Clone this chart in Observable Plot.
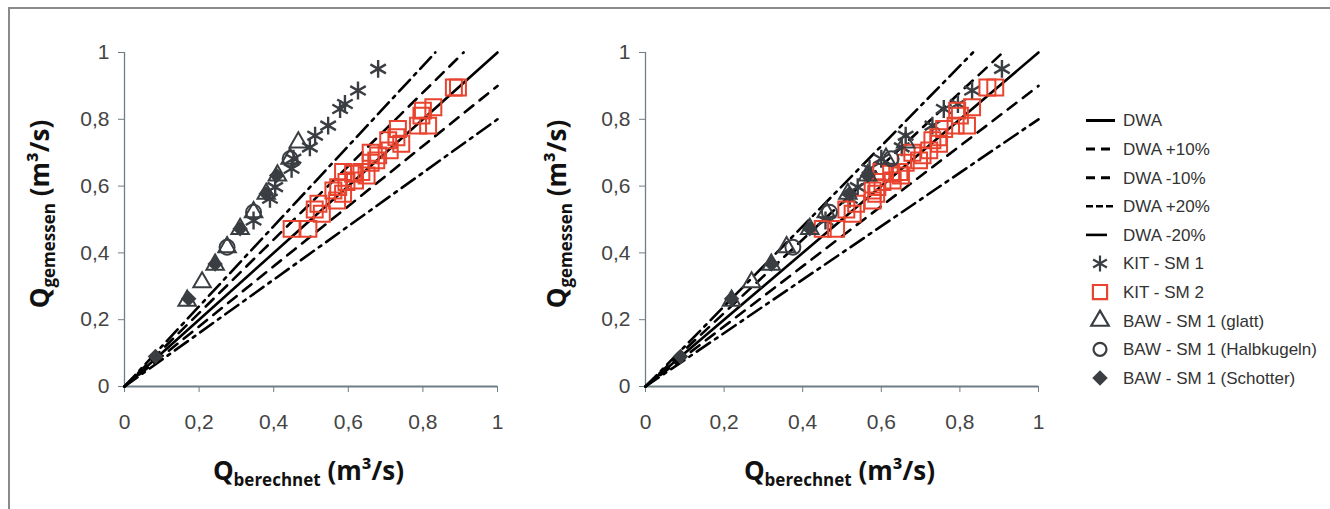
<!DOCTYPE html>
<html><head><meta charset="utf-8">
<script src="https://cdn.jsdelivr.net/npm/d3@7"></script>
<script src="https://cdn.jsdelivr.net/npm/@observablehq/plot@0.6"></script>
<style>
body{margin:0;background:#fff;}
#wrap{position:relative;width:1330px;height:509px;overflow:hidden;background:#fff;}
#frame{position:absolute;left:8px;top:7px;width:1400px;height:600px;border-top:2px solid #8a8a8a;border-left:2px solid #8a8a8a;box-sizing:border-box;}
.panel{position:absolute;top:0;}
</style></head><body>
<div id="wrap"><div id="frame"></div></div>
<script>
// ---- axis ticks ----
const tickValues = [0, 0.2, 0.4, 0.6, 0.8, 1];
const tickLabels = ["0", "0,2", "0,4", "0,6", "0,8", "1"];

// ---- DWA reference lines ----
const dwaNames = ["DWA", "DWA +10%", "DWA -10%", "DWA +20%", "DWA -20%"];
const dwaFactors = [1, 1.1, 0.9, 1.2, 0.8];

// ---- KIT - SM 1 (measured / calculated left panel / calculated right panel) ----
const kit1Measured  = [0.951, 0.886, 0.846, 0.831, 0.781, 0.751, 0.716, 0.682, 0.652, 0.597, 0.562, 0.497];
const kit1CalcLeft  = [0.680, 0.626, 0.591, 0.578, 0.546, 0.511, 0.497, 0.453, 0.448, 0.404, 0.390, 0.346];
const kit1CalcRight = [0.907, 0.831, 0.795, 0.759, 0.730, 0.662, 0.652, 0.600, 0.570, 0.540, 0.520, 0.458];

// ---- KIT - SM 2 ----
const kit2Measured  = [0.895, 0.895, 0.836, 0.826, 0.811, 0.781, 0.781, 0.771, 0.746, 0.737, 0.727, 0.707, 0.692, 0.677, 0.700, 0.670, 0.642, 0.632, 0.637, 0.617, 0.642, 0.612, 0.597, 0.577, 0.587, 0.557, 0.547, 0.517, 0.530, 0.472, 0.472];
const kit2CalcLeft  = [0.883, 0.894, 0.828, 0.800, 0.796, 0.814, 0.787, 0.733, 0.729, 0.707, 0.742, 0.711, 0.680, 0.675, 0.660, 0.660, 0.635, 0.649, 0.613, 0.618, 0.586, 0.595, 0.573, 0.586, 0.560, 0.570, 0.520, 0.529, 0.510, 0.448, 0.493];
const kit2CalcRight = [0.870, 0.890, 0.831, 0.793, 0.800, 0.818, 0.789, 0.760, 0.745, 0.730, 0.747, 0.722, 0.705, 0.696, 0.679, 0.662, 0.646, 0.650, 0.625, 0.629, 0.600, 0.603, 0.590, 0.587, 0.578, 0.578, 0.536, 0.527, 0.511, 0.451, 0.485];

// ---- BAW - SM 1 (glatt) ----
const glattMeasured  = [0.257, 0.312, 0.365, 0.417, 0.472, 0.522, 0.577, 0.632, 0.682, 0.731];
const glattCalcLeft  = [0.168, 0.208, 0.243, 0.275, 0.310, 0.346, 0.380, 0.410, 0.444, 0.466];
const glattCalcRight = [0.219, 0.270, 0.320, 0.359, 0.418, 0.460, 0.515, 0.565, 0.612, 0.662];

// ---- BAW - SM 1 (Halbkugeln) ----
const halbMeasured  = [0.417, 0.522, 0.682];
const halbCalcLeft  = [0.275, 0.346, 0.444];
const halbCalcRight = [0.375, 0.468, 0.625];

// ---- BAW - SM 1 (Schotter) ----
const schotterMeasured  = [0.090, 0.263, 0.367, 0.472, 0.577, 0.632];
const schotterCalcLeft  = [0.083, 0.172, 0.243, 0.310, 0.380, 0.408];
const schotterCalcRight = [0.089, 0.219, 0.321, 0.418, 0.519, 0.565];

const DARK = "#3a3e42";
const RED = "#e8442f";
const AXIS = "#6f7e85";
const dashes = ["none", "11,8", "11,8", "16,6,3,6", "16,6,3,6"];
const TITLE_FONT = "'Open Sans', Lato, sans-serif";

function pts(calc, meas) { return meas.map((m, i) => ({calc: calc[i], meas: m})); }

function dwaLine(f) {
  const end = f >= 1 ? 1 / f : 1;
  return [{calc: 0, meas: 0}, {calc: end, meas: end * f}];
}

function panel(side) {
  const L = side === "left";
  const width = L ? 520 : 540;
  const mL = L ? 124 : 125, mR = L ? 23 : 22;
  const fmt = d => tickLabels[tickValues.indexOf(d)];
  const marks = [
    Plot.ruleY([0], {stroke: AXIS, strokeWidth: 2}),
    Plot.ruleX([0], {stroke: AXIS, strokeWidth: 1.3}),
    Plot.axisX({ticks: tickValues, tickFormat: fmt, tickSize: 6, tickPadding: 22, stroke: AXIS, fill: "#444", label: null, fontSize: 21}),
    Plot.axisY({ticks: tickValues, tickFormat: fmt, tickSize: 6, tickPadding: 9, stroke: AXIS, fill: "#444", label: null, fontSize: 21})
  ];
  dwaFactors.forEach((f, i) => {
    marks.push(Plot.line(dwaLine(f), {x: "calc", y: "meas", stroke: "#000", strokeWidth: 2.6, strokeDasharray: dashes[i] === "none" ? null : dashes[i]}));
  });
  marks.push(
    Plot.dot(pts(L ? kit1CalcLeft : kit1CalcRight, kit1Measured), {x: "calc", y: "meas", symbol: "asterisk", r: 8.5, stroke: DARK, strokeWidth: 2.4}),
    Plot.dot(pts(L ? kit2CalcLeft : kit2CalcRight, kit2Measured), {x: "calc", y: "meas", symbol: "square", r: 9, stroke: RED, fill: "none", strokeWidth: 2}),
    Plot.dot(pts(L ? glattCalcLeft : glattCalcRight, glattMeasured), {x: "calc", y: "meas", symbol: "triangle", r: 6.5, stroke: DARK, fill: "none", strokeWidth: 2}),
    Plot.dot(pts(L ? halbCalcLeft : halbCalcRight, halbMeasured), {x: "calc", y: "meas", symbol: "circle", r: 7.5, stroke: DARK, fill: "none", strokeWidth: 2}),
    Plot.dot(pts(L ? schotterCalcLeft : schotterCalcRight, schotterMeasured), {x: "calc", y: "meas", symbol: "diamond2", r: 7, fill: DARK, stroke: "none"})
  );
  const svg = Plot.plot({
    width, height: 509,
    marginLeft: mL, marginRight: mR, marginTop: 52, marginBottom: 123,
    x: {domain: [0, 1]}, y: {domain: [0, 1]},
    style: {fontFamily: "'Liberation Sans', Arial, sans-serif", fontSize: "21px", background: "transparent", overflow: "visible", color: "#444"},
    marks
  });
  svg.classList.add("panel");
  svg.style.left = (L ? 0 : 520) + "px";
  svg.style.position = "absolute";
  svg.style.top = "0px";
  const s = d3.select(svg);
  const cx = mL + (width - mL - mR) / 2;
  const xt = s.append("text").attr("x", cx - 2).attr("y", 480).attr("text-anchor", "middle")
    .attr("font-family", TITLE_FONT).attr("font-weight", "bold").attr("fill", "#111");
  xt.append("tspan").attr("font-size", 26).text("Q");
  xt.append("tspan").attr("font-size", 17).attr("dy", 6).text("berechnet");
  xt.append("tspan").attr("font-size", 26).attr("dy", -6).text(" (m³/s)");
  const yt = s.append("text").attr("transform", `translate(${L ? 49 : 46},214) rotate(-90)`).attr("text-anchor", "middle")
    .attr("font-family", TITLE_FONT).attr("font-weight", "bold").attr("fill", "#111");
  yt.append("tspan").attr("font-size", 26).text("Q");
  yt.append("tspan").attr("font-size", 17).attr("dy", 6).text("gemessen");
  yt.append("tspan").attr("font-size", 26).attr("dy", -6).text(" (m³/s)");
  return svg;
}

const wrap = document.getElementById("wrap");
wrap.appendChild(panel("left"));
wrap.appendChild(panel("right"));

// ---- legend ----
const legendLabels = ["DWA", "DWA +10%", "DWA -10%", "DWA +20%", "DWA -20%", "KIT - SM 1", "KIT - SM 2", "BAW - SM 1 (glatt)", "BAW - SM 1 (Halbkugeln)", "BAW - SM 1 (Schotter)"];
const lg = d3.select(wrap).append("svg").attr("width", 270).attr("height", 509)
  .style("position", "absolute").style("left", "1060px").style("top", "0px");
const rowY = i => 120.5 + 28.6 * i;
const ox = -1060;
const legendLineSpec = [
  {x1: 1086, x2: 1115, dash: null, w: 3},
  {x1: 1086, x2: 1110, dash: "9,6", w: 3},
  {x1: 1086, x2: 1110, dash: "9,6", w: 3},
  {x1: 1086, x2: 1113, dash: "7,3", w: 2.6},
  {x1: 1086, x2: 1107, dash: null, w: 2.6}
];
legendLineSpec.forEach((sp, i) => {
  lg.append("line").attr("x1", sp.x1 + ox).attr("x2", sp.x2 + ox).attr("y1", rowY(i)).attr("y2", rowY(i))
    .attr("stroke", "#000").attr("stroke-width", sp.w).attr("stroke-dasharray", sp.dash);
});
const legendSym = [
  {type: d3.symbolAsterisk, r: 7.5, fill: "none", stroke: DARK},
  {type: d3.symbolSquare, r: 8, fill: "none", stroke: RED},
  {type: d3.symbolTriangle, r: 6.5, fill: "none", stroke: DARK},
  {type: d3.symbolCircle, r: 6.5, fill: "none", stroke: DARK},
  {type: d3.symbolDiamond2, r: 7, fill: DARK, stroke: "none"}
];
legendSym.forEach((sp, j) => {
  lg.append("path").attr("d", d3.symbol().type(sp.type).size(Math.PI * sp.r * sp.r)())
    .attr("transform", `translate(${1100 + ox},${rowY(5 + j)})`)
    .attr("fill", sp.fill).attr("stroke", sp.stroke).attr("stroke-width", 2.2);
});
legendLabels.forEach((t, i) => {
  lg.append("text").attr("x", 1123 + ox).attr("y", rowY(i)).attr("dy", "0.35em")
    .attr("font-family", "'Liberation Sans', Arial, sans-serif").attr("font-size", 17).attr("fill", "#333").text(t);
});
</script>
</body></html>
